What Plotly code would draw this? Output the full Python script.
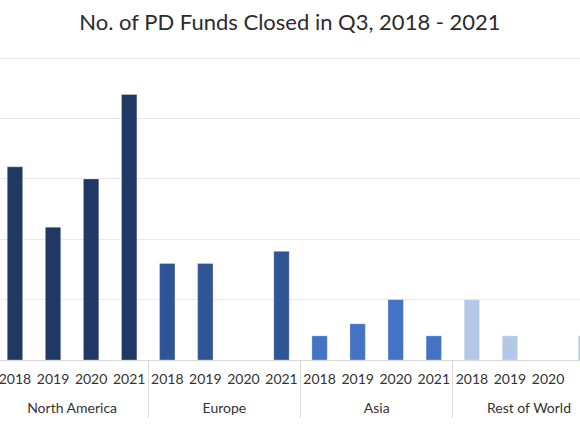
import plotly.graph_objects as go

regions = ["North America", "Europe", "Asia", "Rest of World"]
years = ["2018", "2019", "2020", "2021"]
north_america = [16, 11, 15, 22]
europe = [8, 8, 0, 9]
asia = [2, 3, 5, 2]
rest_of_world = [5, 2, 0, 2]
colors = ["#203864", "#2f5597", "#4472c4", "#b4c7e7"]
y_ticks = [0, 5, 10, 15, 20, 25]

series = [north_america, europe, asia, rest_of_world]
n = len(years)

fig = go.Figure()
all_pos, all_lab = [], []
for g, (region, vals, col) in enumerate(zip(regions, series, colors)):
    pos = [g * n + i for i in range(n)]
    all_pos += pos
    all_lab += years
    fig.add_trace(go.Bar(
        x=pos, y=vals,
        marker=dict(color=col, line=dict(color="rgba(255,255,255,0.5)", width=0.6)),
        width=0.405, showlegend=False, name=region,
    ))

group_centers = [g * n + (n - 1) / 2 for g in range(len(regions))]
group_edges = [g * n - 0.5 for g in range(len(regions) + 1)]
xr = [-0.393, 14.84]

fig.add_trace(go.Scatter(x=[], y=[], xaxis="x2", showlegend=False))

fig.update_layout(
    width=580, height=435,
    margin=dict(l=0, r=0, t=57, b=75),
    paper_bgcolor="white", plot_bgcolor="white",
    barmode="overlay",
    font=dict(family="Lato, 'Open Sans', sans-serif", size=14, color="#333333"),
    title=dict(text="No. of PD Funds Closed in Q3, 2018 - 2021",
               x=0.5, xanchor="center", y=1 - 22 / 435, yanchor="middle",
               yref="container",
               font=dict(family="Lato, sans-serif", size=22, color="#2b2b2b")),
    xaxis=dict(
        type="linear", range=xr, automargin=False,
        tickmode="array", tickvals=all_pos, ticktext=all_lab, tickangle=0,
        ticks="", showgrid=False, zeroline=False,
        showline=True, linecolor="#d9d9d9", linewidth=1,
        ticklabelstandoff=6, ticklabeloverflow="allow",
        tickfont=dict(size=14, color="#333333"),
    ),
    xaxis2=dict(
        type="linear", range=xr, overlaying="x", anchor="y", side="bottom",
        automargin=False, tickmode="array", tickvals=group_centers, ticktext=regions,
        tickangle=0, ticks="", showgrid=False, zeroline=False, showline=False,
        ticklabelstandoff=38, ticklabeloverflow="allow",
        tickfont=dict(size=14, color="#333333"),
        minor=dict(tickmode="array", tickvals=group_edges, ticks="outside",
                   ticklen=57, tickwidth=1, tickcolor="#d9d9d9", showgrid=False),
    ),
    yaxis=dict(
        range=[0, 25.1], tickvals=y_ticks, showticklabels=False, automargin=False,
        showgrid=True, gridcolor="#e8e8e8", gridwidth=1, zeroline=False,
    ),
)

fig.write_html("out.html", config={"displayModeBar": False},
               post_script="document.body.style.margin='0';")
